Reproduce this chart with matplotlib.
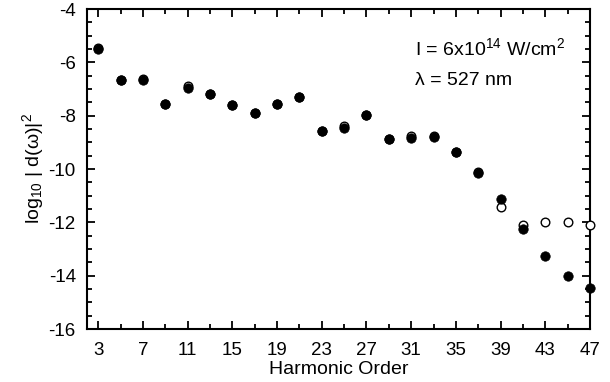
import matplotlib
matplotlib.use("Agg")
import matplotlib.pyplot as plt
from matplotlib.ticker import MultipleLocator

plt.rcParams["font.family"] = ["Liberation Sans", "DejaVu Sans"]
plt.rcParams["axes.unicode_minus"] = False
plt.rcParams["mathtext.fontset"] = "custom"
plt.rcParams["mathtext.rm"] = "Liberation Sans"
plt.rcParams["mathtext.it"] = "Liberation Sans"

# harmonic orders
orders = [3, 5, 7, 9, 11, 13, 15, 17, 19, 21, 23, 25,
          27, 29, 31, 33, 35, 37, 39, 41, 43, 45, 47]
# filled circles
filled = [-5.51, -6.67, -6.67, -7.55, -6.97, -7.20, -7.61, -7.91,
          -7.55, -7.31, -8.56, -8.46, -7.96, -8.86, -8.84, -8.79,
          -9.35, -10.16, -11.12, -12.25, -13.25, -14.00, -14.46]
# open circles
opened = [-5.45, -6.67, -6.62, -7.55, -6.90, -7.20, -7.61, -7.91,
          -7.55, -7.31, -8.56, -8.40, -7.96, -8.86, -8.78, -8.75,
          -9.35, -10.12, -11.41, -12.10, -11.99, -11.99, -12.10]

xticks = [3, 7, 11, 15, 19, 23, 27, 31, 35, 39, 43, 47]
xminor = [5, 9, 13, 17, 21, 25, 29, 33, 37, 41, 45]
yticks = [-16, -14, -12, -10, -8, -6, -4]

fig = plt.figure(figsize=(6.1, 3.82), dpi=100)
ax = fig.add_axes([0.1426, 0.1387, 0.8246, 0.8377])

ax.plot(orders, opened, "o", ms=6.2, mfc="white", mec="black", mew=1.0,
        clip_on=False, zorder=3)
ax.plot(orders, filled, "o", ms=6.8, mfc="black", mec="black", mew=0.5,
        clip_on=False, zorder=4)

ax.set_xlim(2, 47)
ax.set_ylim(-16, -4)
ax.set_xticks(xticks)
ax.set_xticks(xminor, minor=True)
ax.set_yticks(yticks)
ax.set_yticklabels([str(v) for v in yticks])
ax.yaxis.set_minor_locator(MultipleLocator(0.5))

ax.tick_params(which="both", direction="in", top=True, right=True,
               labelsize=13.5, width=1.3)
ax.tick_params(axis="x", pad=9)
ax.tick_params(axis="y", pad=8)
ax.tick_params(which="major", length=6)
ax.tick_params(which="minor", length=3.5)
for sp in ax.spines.values():
    sp.set_linewidth(1.5)

ax.set_xlabel("Harmonic Order", fontsize=14, labelpad=2)
ax.set_ylabel(r"log$_{10}$ | d($\omega$)|$^2$", fontsize=14, labelpad=2)

ax.text(0.652, 0.878, r"I = 6x10$^{14}$ W/cm$^2$", fontsize=14,
        va="center", transform=ax.transAxes)
ax.text(0.652, 0.778, "\u03bb = 527 nm", fontsize=14,
        va="center", transform=ax.transAxes)

fig.savefig("out.png", dpi=100)
